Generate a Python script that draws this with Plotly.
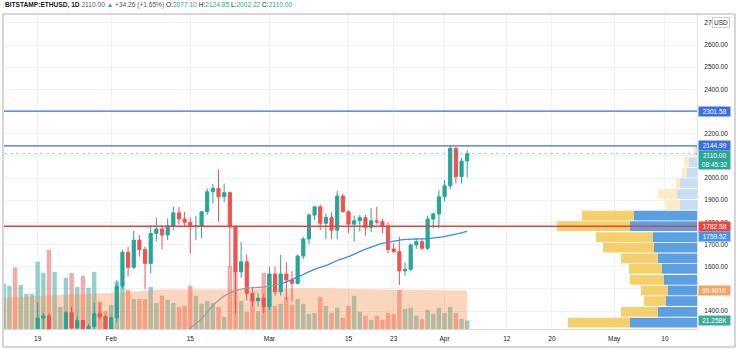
import pandas as pd
import plotly.graph_objects as go

# ---------------- data ----------------
dates = pd.date_range("2021-01-13", "2021-04-05", freq="D")

opens = [1045, 1130, 1218, 1171, 1233, 1236, 1257, 1368, 1378, 1120, 1235, 1238, 1392, 1324, 1357, 1253, 1331, 1388, 1374,
         1314, 1370, 1512, 1665, 1597, 1720, 1678, 1615, 1750, 1770, 1743, 1785, 1843, 1815, 1800, 1781, 1784, 1848, 1938,
         1953, 1916, 1934, 1780, 1577, 1622, 1480, 1446, 1458,
         1420, 1567, 1487, 1567, 1540, 1525, 1648, 1725, 1833, 1870, 1796, 1822, 1765, 1919, 1848, 1792, 1807, 1821, 1778,
         1807, 1803, 1784, 1680, 1668, 1581, 1588, 1698, 1713, 1683, 1815, 1838,
         1916, 1965, 2134, 2006, 2077.10]
highs = [1135, 1245, 1250, 1280, 1265, 1260, 1438, 1392, 1390, 1255, 1280, 1400, 1420, 1375, 1360, 1340, 1436, 1436, 1382,
         1380, 1540, 1675, 1690, 1762, 1742, 1690, 1788, 1822, 1788, 1818, 1870, 1870, 1848, 1822, 1830, 1850, 1953, 1973,
         2039, 1975, 1940, 1785, 1712, 1655, 1510, 1480, 1475,
         1600, 1600, 1653, 1620, 1580, 1655, 1735, 1840, 1875, 1880, 1840, 1845, 1943, 1930, 1855, 1830, 1833, 1835, 1865,
         1870, 1815, 1800, 1705, 1735, 1620, 1705, 1725, 1730, 1830, 1845, 1945,
         1991, 2144.99, 2140, 2090, 2124.85]
lows = [1030, 1100, 1085, 1160, 1165, 1170, 1242, 1290, 1110, 1060, 1200, 1220, 1300, 1270, 1220, 1230, 1270, 1360, 1300,
        1300, 1350, 1500, 1555, 1590, 1645, 1500, 1571, 1713, 1678, 1720, 1765, 1790, 1780, 1660, 1720, 1728, 1833, 1886,
        1803, 1890, 1600, 1390, 1550, 1450, 1420, 1420, 1391,
        1405, 1470, 1470, 1450, 1442, 1520, 1635, 1700, 1810, 1765, 1724, 1724, 1724, 1845, 1751, 1712, 1760, 1740, 1755,
        1790, 1750, 1660, 1660, 1517, 1560, 1580, 1680, 1675, 1675, 1773, 1773,
        1895, 1950, 1976, 1976, 2002.22]
closes = [1130, 1218, 1171, 1233, 1236, 1257, 1368, 1378, 1120, 1235, 1238, 1392, 1324, 1357, 1253, 1331, 1388, 1374, 1314,
          1370, 1512, 1665, 1597, 1720, 1678, 1615, 1750, 1770, 1743, 1785, 1843, 1815, 1800, 1783, 1784, 1848, 1938, 1953,
          1916, 1934, 1780, 1577, 1622, 1480, 1446, 1458, 1420,
          1567, 1487, 1567, 1540, 1525, 1648, 1725, 1833, 1870, 1796, 1822, 1765, 1919, 1848, 1792, 1807, 1821, 1778, 1807,
          1803, 1784, 1678, 1668, 1581, 1588, 1698, 1713, 1683, 1815, 1838, 1916,
          1965, 2134, 2006, 2075.74, 2110.00]

# daily volume (thousand ETH)
volumes_k = [114, 108, 154, 110, 88, 88, 168, 140, 198, 143, 55, 128, 140, 105, 133, 103, 143, 68, 45,
             60, 118, 105, 98, 75, 75, 75, 105, 65, 83, 73, 65, 55, 58, 108, 83, 63, 70, 65,
             55, 30, 158, 148, 70, 43, 73, 45, 140,
             138, 58, 63, 80, 60, 75, 63, 38, 40, 80, 58, 40, 53, 28, 58, 83, 43, 33, 23,
             33, 23, 40, 38, 98, 50, 53, 33, 25, 48, 38, 53,
             40, 55, 40, 25, 21.258]

vol_ma_dates = ["2021-01-13", "2021-01-22", "2021-02-01", "2021-02-10", "2021-02-20",
                "2021-03-01", "2021-03-10", "2021-03-23", "2021-04-05"]
vol_ma_k = [78, 85, 90, 99, 99, 101, 102, 98, 95.961]

ma_gray_dates = ["2021-02-13", "2021-02-15", "2021-02-17", "2021-02-19", "2021-02-21", "2021-02-23",
                 "2021-02-25", "2021-02-27", "2021-03-01", "2021-03-03"]
ma_gray_vals = [1270, 1322, 1365, 1425, 1468, 1492, 1503, 1507, 1511, 1522]
ma_blue_dates = ["2021-03-03", "2021-03-05", "2021-03-07", "2021-03-09", "2021-03-11", "2021-03-13", "2021-03-15",
                 "2021-03-17", "2021-03-19", "2021-03-21", "2021-03-23", "2021-03-25", "2021-03-27", "2021-03-29",
                 "2021-03-31", "2021-04-02", "2021-04-04", "2021-04-05"]
ma_blue_vals = [1522, 1542, 1565, 1588, 1605, 1628, 1645, 1668, 1688, 1705, 1715, 1723, 1725, 1727,
                1732, 1742, 1753, 1759.52]

# volume profile (visible range) rows
vp_levels = [2121, 2072, 2024, 1976, 1928, 1879, 1831, 1783, 1734, 1686, 1638, 1590, 1541, 1493, 1445, 1396, 1348]
vp_up = [120, 200, 200, 160, 760, 560, 2080, 2920, 2280, 2040, 1480, 1320, 1360, 1080, 880, 1480, 2480]
vp_down = [40, 320, 400, 680, 800, 680, 2520, 2680, 1760, 1720, 1560, 1400, 1320, 1160, 1240, 1560, 2680]
vp_value_area = [False, False, False, False, False, False,
                 True, True, True, True, True, True, True, True, True, True, True]

line_blue_levels = [2301.58, 2144.99]
line_red_level = 1782.58
last_price = 2110.00
last_time = "08:45:32"
ma_last = 1759.52
vol_ma_last = "95.961K"
vol_last_label = "21.258K"

price_ticks = list(range(1400, 2800, 100))
hidden_price_ticks = [2100, 2300]   # fully covered by price tags in the reference
x_tick_dates = ["2021-01-19", "2021-02-01", "2021-02-15", "2021-03-01", "2021-03-15", "2021-03-23",
                "2021-04-01", "2021-04-12", "2021-04-20", "2021-05-01", "2021-05-10"]
x_tick_text = ["19", "Feb", "15", "Mar", "15", "23", "Apr", "12", "20", "May", "10"]

# ---------------- styling ----------------
FONT = "Liberation Sans"
G = "#26a69a"
R = "#ef5350"
TXT = "#131722"
GRID = "#eef0f3"
BLUE_LINE = "#3a6fdc"
RED_LINE = "#e8403a"

fig = go.Figure()

vol_colors = ["rgba(38,166,154,0.5)" if c >= o else "rgba(239,83,80,0.5)" for o, c in zip(opens, closes)]
fig.add_trace(go.Bar(x=dates, y=volumes_k, marker=dict(color=vol_colors, line=dict(width=0)),
                     xaxis="x", yaxis="y", hoverinfo="skip", showlegend=False))
fig.add_trace(go.Scatter(x=vol_ma_dates, y=vol_ma_k, mode="lines", fill="tozeroy",
                         fillcolor="rgba(243,140,75,0.36)", line=dict(width=0, color="rgba(243,140,75,0.5)"),
                         xaxis="x", yaxis="y", hoverinfo="skip", showlegend=False))

fig.add_trace(go.Candlestick(x=dates, open=opens, high=highs, low=lows, close=closes,
                             increasing=dict(line=dict(color=G, width=1), fillcolor=G),
                             decreasing=dict(line=dict(color=R, width=1), fillcolor=R),
                             whiskerwidth=0, xaxis="x", yaxis="y2", showlegend=False))

fig.add_trace(go.Scatter(x=ma_gray_dates, y=ma_gray_vals, mode="lines", line=dict(color="#9a9ca3", width=1.2, shape="spline"),
                         xaxis="x", yaxis="y2", showlegend=False, hoverinfo="skip"))
fig.add_trace(go.Scatter(x=ma_blue_dates, y=ma_blue_vals, mode="lines", line=dict(color="#3f8ae8", width=1.3, shape="spline"),
                         xaxis="x", yaxis="y2", showlegend=False, hoverinfo="skip"))

down_colors = ["#5d9fe3" if v else "#c9def4" for v in vp_value_area]
up_colors = ["#f4cf6c" if v else "#fbecc4" for v in vp_value_area]
fig.add_trace(go.Bar(orientation="h", y=vp_levels, x=vp_down, base=0, width=44,
                     marker=dict(color=down_colors, line=dict(width=0)),
                     xaxis="x2", yaxis="y2", showlegend=False, hoverinfo="skip"))
fig.add_trace(go.Bar(orientation="h", y=vp_levels, x=vp_up, base=vp_down, width=44,
                     marker=dict(color=up_colors, line=dict(width=0)),
                     xaxis="x2", yaxis="y2", showlegend=False, hoverinfo="skip"))

shapes = []
for lv in line_blue_levels:
    shapes.append(dict(type="line", xref="paper", yref="y2", x0=0, x1=1, y0=lv, y1=lv,
                       line=dict(color=BLUE_LINE, width=1.3), layer="above"))
shapes.append(dict(type="line", xref="paper", yref="y2", x0=0, x1=1, y0=line_red_level, y1=line_red_level,
                   line=dict(color=RED_LINE, width=1.3), layer="above"))
shapes.append(dict(type="line", xref="paper", yref="y2", x0=0, x1=1, y0=last_price, y1=last_price,
                   line=dict(color="rgba(38,166,154,0.45)", width=1, dash="dot"), layer="above"))
# outer frame
shapes.append(dict(type="rect", xref="paper", yref="paper", x0=-0.0015, x1=1.0548, y0=-0.0571, y1=1.0,
                   line=dict(color="#a9acb3", width=1), fillcolor="rgba(0,0,0,0)", layer="above"))

def tag(text, y, bg, yref="y2", yshift=0, yanchor="middle", fc="white"):
    return dict(text=text, xref="paper", x=1.0, xanchor="left", xshift=1, yref=yref, y=y,
                yanchor=yanchor, yshift=yshift, showarrow=False, bgcolor=bg, borderpad=1.2,
                font=dict(family=FONT, size=6.5, color=fc), width=29, align="center")

annotations = [
    tag(f"{line_blue_levels[0]:.2f}", line_blue_levels[0], "#3a6fdc"),
    tag(f"{line_blue_levels[1]:.2f}", line_blue_levels[1], "#3a6fdc"),
    tag(f"{last_price:.2f}<br>{last_time}", last_price, "#2aa598", yanchor="top", yshift=4),
    tag(f"{line_red_level:.2f}", line_red_level, "#f0433a"),
    tag(f"{ma_last:.2f}", ma_last, "#4a93ec", yshift=-5),
    tag(vol_ma_last, vol_ma_k[-1], "#f4a35f", yref="y"),
    tag(vol_last_label, volumes_k[-1], "#3aab9d", yref="y"),
    dict(text="USD", xref="paper", x=(721 - 4) / 693, xanchor="center", yref="paper", y=1 - (22 - 14) / 315,
         yanchor="middle", showarrow=False, bgcolor="white", bordercolor="#c7cad1", borderwidth=1, borderpad=1,
         font=dict(family=FONT, size=6.5, color=TXT)),
    dict(text=("<b>BITSTAMP:ETHUSD, 1D</b> <span style='color:#50535e'>2110.00</span> "
               "<span style='color:#26a69a'>▲</span> <span style='color:#50535e'>+34.26 (+1.65%)</span> "
               "O:<span style='color:#26a69a'>2077.10</span> H:<span style='color:#26a69a'>2124.85</span> "
               "L:<span style='color:#26a69a'>2002.22</span> C:<span style='color:#26a69a'>2110.00</span>"),
         xref="paper", x=-0.001, xanchor="left", yref="paper", y=1 + (14 - 5) / 315, yanchor="middle",
         showarrow=False, font=dict(family=FONT, size=6.6, color=TXT)),
]

fig.update_layout(
    width=736, height=349,
    margin=dict(l=4, r=39, t=14, b=20),
    paper_bgcolor="white", plot_bgcolor="white",
    barmode="overlay", bargap=0.22, boxgap=0.2,
    showlegend=False,
    font=dict(family=FONT, size=6.5, color=TXT),
    xaxis=dict(type="date", range=["2021-01-13 01:00", "2021-05-15 16:00"], domain=[0, 1],
               tickvals=x_tick_dates, ticktext=x_tick_text, showgrid=True, gridcolor=GRID, gridwidth=1,
               ticks="outside", ticklen=3, tickcolor="rgba(0,0,0,0)", tickfont=dict(size=6.5, color=TXT),
               showline=True, linecolor="#d6d9de", linewidth=1, zeroline=False,
               rangeslider=dict(visible=False), anchor="y"),
    yaxis=dict(range=[0, 787.5], visible=False, showgrid=False, zeroline=False, fixedrange=True),
    yaxis2=dict(overlaying="y", side="right", range=[1319, 2740], tickvals=price_ticks,
                ticktext=["" if v in hidden_price_ticks else f"{v:.2f}" for v in price_ticks],
                showgrid=True, gridcolor=GRID, gridwidth=1,
                ticks="outside", ticklen=5, tickcolor="rgba(0,0,0,0)", tickfont=dict(size=6.5, color=TXT),
                showline=True, linecolor="#e0e3e8", zeroline=False, anchor="x"),
    xaxis2=dict(overlaying="x", range=[27720, 0], visible=False, showgrid=False, zeroline=False, anchor="y2"),
    shapes=shapes,
    annotations=annotations,
)

fig.write_html("out.html")
